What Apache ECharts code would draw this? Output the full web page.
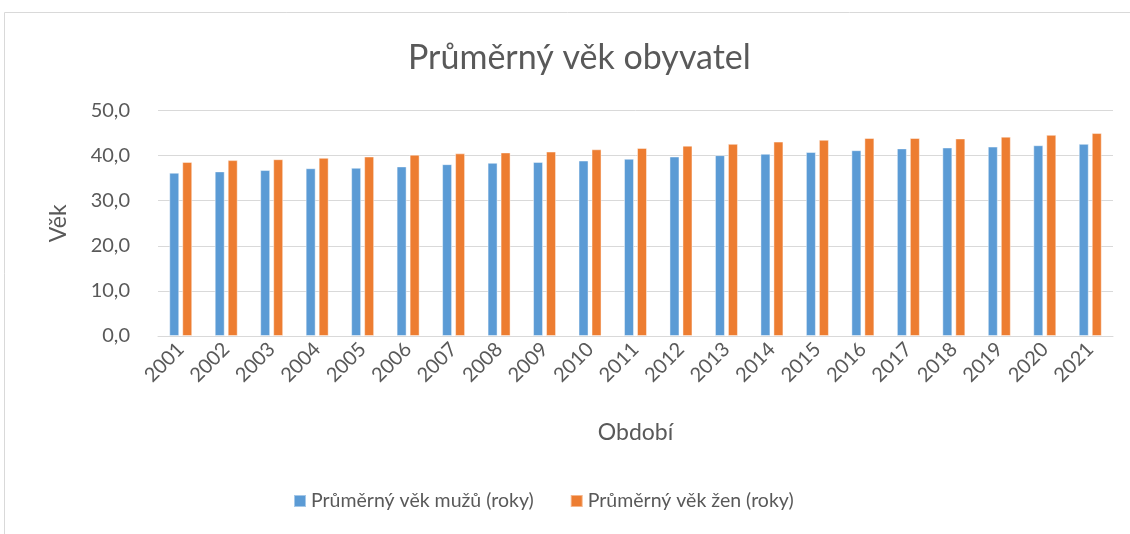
<!DOCTYPE html>
<html>
<head>
<meta charset="utf-8">
<script src="https://cdn.jsdelivr.net/npm/echarts@6/dist/echarts.min.js"></script>
<style>
html,body{margin:0;padding:0;background:#fff;}
#chart{width:1130px;height:534px;}
</style>
</head>
<body>
<div id="chart"></div>
<script>
const years = ['2001','2002','2003','2004','2005','2006','2007','2008','2009','2010','2011','2012','2013','2014','2015','2016','2017','2018','2019','2020','2021'];
const men = [36.2,36.5,36.8,37.2,37.3,37.6,38.1,38.4,38.6,38.9,39.3,39.8,40.1,40.4,40.8,41.2,41.6,41.8,42.0,42.3,42.6];
const women = [38.6,39.0,39.2,39.5,39.8,40.2,40.5,40.7,40.9,41.4,41.7,42.2,42.6,43.1,43.5,43.9,43.9,43.8,44.2,44.6,45.0];
const seriesNames = ['Průměrný věk mužů (roky)','Průměrný věk žen (roky)'];
const yTicks = [0,10,20,30,40,50];

const FONT = 'Lato, "Open Sans", sans-serif';
const TXT = '#595959';
const chart = echarts.init(document.getElementById('chart'), null, {renderer:'canvas'});
chart.setOption({
  animation:false,
  backgroundColor:'#fff',
  graphic:[{type:'rect',shape:{x:4.5,y:12.5,width:1200,height:700},style:{fill:'none',stroke:'#D9D9D9',lineWidth:1},silent:true}],
  title:{text:'Průměrný věk obyvatel',left:403,top:36,textStyle:{fontFamily:FONT,fontSize:34,fontWeight:'normal',color:TXT}},
  legend:{bottom:18,left:288,itemWidth:12,itemHeight:12,itemGap:36,icon:'rect',
    textStyle:{fontFamily:FONT,fontSize:19.5,color:TXT},data:seriesNames},
  grid:{left:158,right:17,top:110.5,bottom:198,containLabel:false},
  xAxis:{type:'category',data:years,name:'Období',nameLocation:'middle',nameGap:85,
    nameTextStyle:{fontFamily:FONT,fontSize:23,color:TXT},
    axisLine:{lineStyle:{color:'#D9D9D9',width:1}},axisTick:{show:false},
    axisLabel:{rotate:45,fontFamily:FONT,fontSize:20,color:TXT,margin:10,interval:0}},
  yAxis:{type:'value',min:yTicks[0],max:yTicks[yTicks.length-1],interval:10,name:'Věk',nameLocation:'middle',nameGap:88,
    nameTextStyle:{fontFamily:FONT,fontSize:23,color:TXT},
    axisLine:{show:false},axisTick:{show:false},
    splitLine:{lineStyle:{color:'#D9D9D9',width:1}},
    axisLabel:{fontFamily:FONT,fontSize:20,color:TXT,margin:28,formatter:v=>v.toFixed(1).replace('.',',')}},
  series:[
    {name:seriesNames[0],type:'bar',data:men,barWidth:10,barGap:'30%',itemStyle:{color:'#5B9BD5',borderColor:'rgba(255,255,255,0.45)',borderWidth:1}},
    {name:seriesNames[1],type:'bar',data:women,barWidth:10,barGap:'30%',itemStyle:{color:'#ED7D31',borderColor:'rgba(255,255,255,0.45)',borderWidth:1}}
  ]
});
</script>
</body>
</html>
